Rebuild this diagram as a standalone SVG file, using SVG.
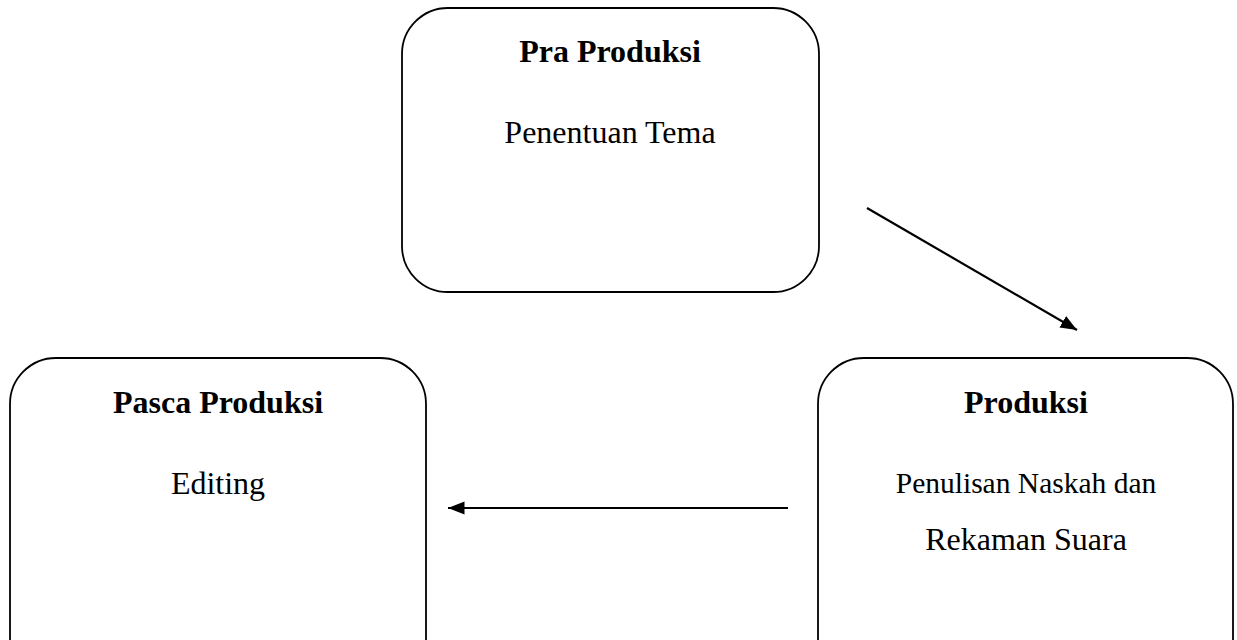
<svg xmlns="http://www.w3.org/2000/svg" width="1237" height="640" viewBox="0 0 1237 640">
<style>
.box{fill:#fff;stroke:#000;stroke-width:1.8}
.t{font-family:"Liberation Serif","Times New Roman",serif;font-size:32px;fill:#000;text-anchor:middle}
.b{font-weight:bold}
.c{stroke:#000;stroke-width:2.2;fill:none}
</style>
<defs>
<marker id="ah" viewBox="0 0 10 10" refX="10" refY="5" markerWidth="7.5" markerHeight="7.5" markerUnits="strokeWidth" orient="auto">
<path d="M0,1 L10,5 L0,9 z" fill="#000"/>
</marker>
</defs>
<g id="pra">
<rect class="box" x="402" y="8" width="417" height="284" rx="46" ry="46"/>
<text class="t b" x="610" y="62">Pra Produksi</text>
<text class="t" x="610" y="143">Penentuan Tema</text>
</g>
<g id="pasca">
<rect class="box" x="10" y="358" width="416" height="340" rx="46" ry="46"/>
<text class="t b" x="218" y="413">Pasca Produksi</text>
<text class="t" x="218" y="494">Editing</text>
</g>
<g id="produksi">
<rect class="box" x="818" y="358" width="415" height="340" rx="46" ry="46"/>
<text class="t b" x="1026" y="413">Produksi</text>
<text class="t" x="1026" y="493" style="font-size:29.5px">Penulisan Naskah dan</text>
<text class="t" x="1026" y="550">Rekaman Suara</text>
</g>
<g id="connectors">
<line class="c" x1="867" y1="208" x2="1077" y2="330" marker-end="url(#ah)"/>
<line class="c" x1="788" y1="508" x2="448" y2="508" marker-end="url(#ah)"/>
</g>
</svg>
